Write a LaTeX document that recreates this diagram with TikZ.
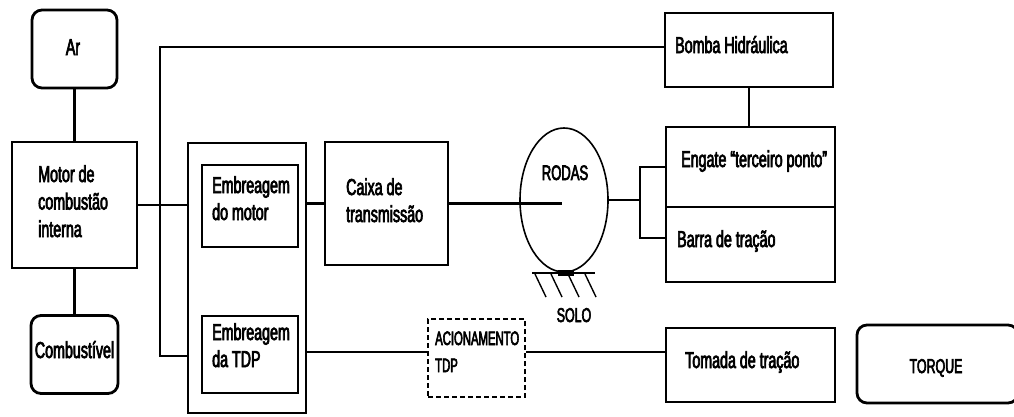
\documentclass[tikz,border=0pt]{standalone}
\usepackage{fontspec}
\setmainfont{Liberation Sans}[FakeStretch=0.62,FakeBold=3]
\newfontfamily\narrowfont{Liberation Sans}[FakeStretch=0.58,FakeBold=3]
\usetikzlibrary{shapes.geometric}
\begin{document}
\begin{tikzpicture}[x=1pt,y=-1pt,
  box/.style={draw, line width=2.8pt, inner sep=0pt, anchor=center},
  rbox/.style={box, rounded corners=10pt},
  conn/.style={line width=2.3pt},
  lbl/.style={anchor=base west, inner sep=0pt, align=left, font=\fontsize{23}{27}\selectfont},
  clbl/.style={anchor=base, inner sep=0pt, font=\fontsize{23}{27}\selectfont}]
\useasboundingbox (0,0) rectangle (1014,416);
\clip (0,0) rectangle (1014,416);
% boxes
\node[rbox, minimum width=85pt, minimum height=78pt] (ar) at (74.5,49) {};
\node[box, minimum width=125pt, minimum height=126pt] (motor) at (74.5,205) {};
\node[rbox, minimum width=87pt, minimum height=78pt] (comb) at (74.5,354.5) {};
\node[box, minimum width=118pt, minimum height=270pt] (outer) at (247,278) {};
\node[box, minimum width=96pt, minimum height=82pt] (emot) at (250,206) {};
\node[box, minimum width=96pt, minimum height=77pt] (etdp) at (250,354.5) {};
\node[box, minimum width=123pt, minimum height=123pt] (caixa) at (386.5,203.5) {};
\node[draw, ellipse, line width=1.6pt, minimum width=88pt, minimum height=144pt, inner sep=0pt] (rodas) at (564,200) {};
\node[box, minimum width=168pt, minimum height=74pt] (bomba) at (749,50) {};
\node[box, minimum width=169pt, minimum height=80pt] (engate) at (750.5,167) {};
\node[box, minimum width=169pt, minimum height=75pt] (barra) at (750.5,244.5) {};
\node[box, line width=2.4pt, dash pattern=on 5pt off 3pt, minimum width=97pt, minimum height=78pt] (acio) at (476.5,358) {};
\node[box, minimum width=169pt, minimum height=74pt] (tomada) at (750.5,365) {};
\node[rbox, minimum width=161pt, minimum height=78pt] (torque) at (937.5,364) {};
% texts (multi-line nodes: base = last line)
\node[clbl] (tar) at (73,55) {Ar};
\node[lbl, font=\fontsize{23}{27.5}\selectfont] (tmotor) at (38,237) {Motor de\\combustão\\interna};
\node[clbl] (tcomb) at (74.5,358) {Combustível};
\node[lbl] (temot) at (212,220) {Embreagem\\do motor};
\node[lbl] (tetdp) at (212,367) {Embreagem\\da TDP};
\node[lbl] (tcaixa) at (346,222) {Caixa de\\transmissão};
\node[clbl, font=\fontsize{21}{24}\selectfont] (trodas) at (565,180) {RODAS};
\node[clbl, font=\fontsize{20}{24}\selectfont] (tsolo) at (574,322) {SOLO};
\node[lbl] (tbomba) at (675,53) {Bomba Hidráulica};
\node[lbl] (tengate) at (681,167) {Engate “terceiro ponto”};
\node[lbl] (tbarra) at (677,247) {Barra de tração};
\node[lbl, font=\narrowfont\fontsize{19.5}{27}\selectfont] (tacio) at (435,372) {ACIONAMENTO\\TDP};
\node[lbl] (ttomada) at (685,368) {Tomada de tração};
\node[clbl, font=\fontsize{20}{24}\selectfont] (ttorque) at (936,373) {TORQUE};
% coordinates
\coordinate (busT) at (160,47);
\coordinate (busB) at (160,356);
\coordinate (hub) at (562,203);
\coordinate (br) at (640,200);
\coordinate (brT) at (640,167);
\coordinate (brB) at (640,238);
\coordinate (tl) at (306,352);
% connectors
\draw[conn] (ar.south) -- (ar.south |- motor.north);
\draw[conn] (motor.south) -- (motor.south |- comb.north);
\draw[conn] (motor.east) -- (motor.east -| outer.west);
\draw[conn] (bomba.west |- busT) -- (busT) -- (busB) -- (busB -| outer.west);
\draw[conn] (caixa.west) -- (caixa.west -| outer.east);
\draw[conn] (caixa.east) -- (caixa.east -| hub);
\draw[conn] (rodas.east) -- (br);
\draw[conn] (engate.west |- brT) -- (brT) -- (brB) -- (barra.west |- brB);
\draw[conn] (bomba.south) -- (bomba.south |- engate.north);
\draw[conn] (outer.east |- tl) -- (acio.west |- tl);
\draw[conn] (acio.east |- tl) -- (tomada.west |- tl);
% ground
\draw[line width=2.2pt] (532,273) -- (595,273);
\fill (558,270) rectangle (574,276);
\foreach \h in {535,551,568,585} \draw[line width=1.4pt] (\h,274) -- ({\h+11},297);
\end{tikzpicture}
\end{document}
